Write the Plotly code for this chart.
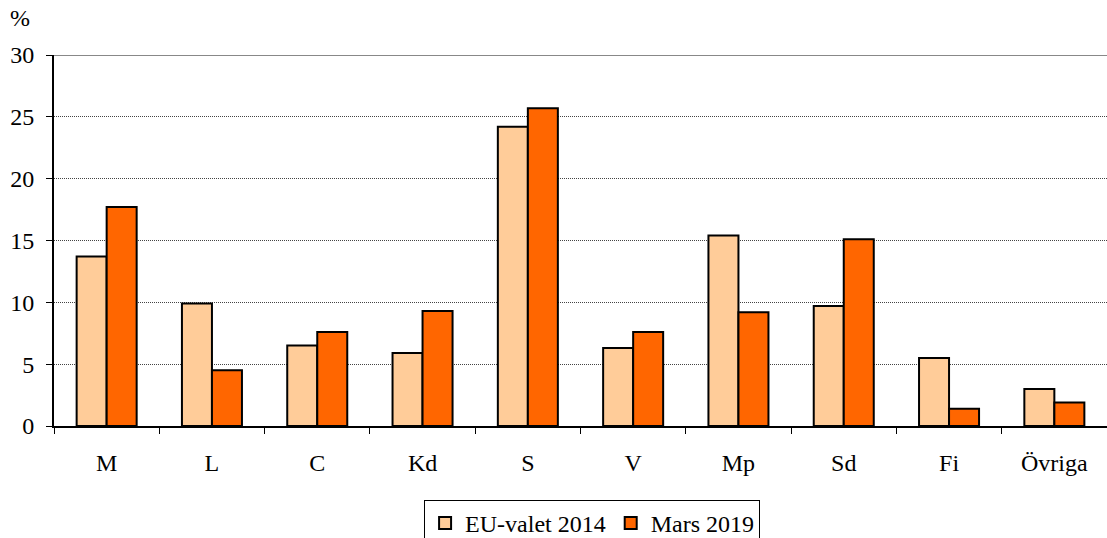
import plotly.graph_objects as go

categories = ["M", "L", "C", "Kd", "S", "V", "Mp", "Sd", "Fi", "Övriga"]
eu2014 = [13.7, 9.9, 6.5, 5.9, 24.2, 6.3, 15.4, 9.7, 5.5, 3.0]
mars2019 = [17.7, 4.5, 7.6, 9.3, 25.7, 7.6, 9.2, 15.1, 1.4, 1.9]
series_names = ["EU-valet 2014", "Mars 2019"]

FONT = "Liberation Serif"
FS = 24

fig = go.Figure()
fig.add_trace(go.Bar(x=categories, y=eu2014, name=series_names[0],
                     marker=dict(color="#FFCC99", line=dict(color="black", width=2))))
fig.add_trace(go.Bar(x=categories, y=mars2019, name=series_names[1],
                     marker=dict(color="#FF6600", line=dict(color="black", width=2))))

fig.update_layout(
    width=1107, height=538,
    margin=dict(l=54, r=0, t=55, b=112, autoexpand=False),
    paper_bgcolor="white", plot_bgcolor="white",
    barmode="group", bargap=0.43, bargroupgap=0,
    font=dict(family=FONT, size=FS, color="black"),
    showlegend=True,
    legend=dict(orientation="h", x=0.511, xanchor="center", y=-0.199, yanchor="top",
                bordercolor="black", borderwidth=1,
                font=dict(family=FONT, size=FS, color="black"),
                traceorder="normal", bgcolor="white"),
)
fig.update_xaxes(
    type="category", tickson="boundaries", ticks="outside", ticklen=6,
    tickcolor="black", tickwidth=1, showline=True, linecolor="black", linewidth=2,
    showgrid=False, tickfont=dict(family=FONT, size=FS, color="black"),
    zeroline=False, automargin=False, ticklabelstandoff=14,
)
fig.update_yaxes(
    range=[0, 30], dtick=5, ticks="outside", ticklen=6, tickcolor="black",
    showline=True, linecolor="black", linewidth=2, showgrid=True,
    gridcolor="#444444", griddash="1px,1px", gridwidth=1, zeroline=False,
    tickfont=dict(family=FONT, size=FS, color="black"), automargin=False,
    ticklabelstandoff=7,
)
fig.add_shape(type="line", xref="paper", yref="y", x0=0, x1=1, y0=30, y1=30,
              line=dict(color="#888888", width=2))
fig.add_annotation(text="%", xref="paper", yref="paper", x=-0.032, y=1.10,
                   xanchor="center", yanchor="middle", showarrow=False,
                   font=dict(family=FONT, size=FS, color="black"))

fig.write_html("out.html", config={"displayModeBar": False},
               post_script="document.body.style.margin='0';document.body.style.overflow='hidden';")
